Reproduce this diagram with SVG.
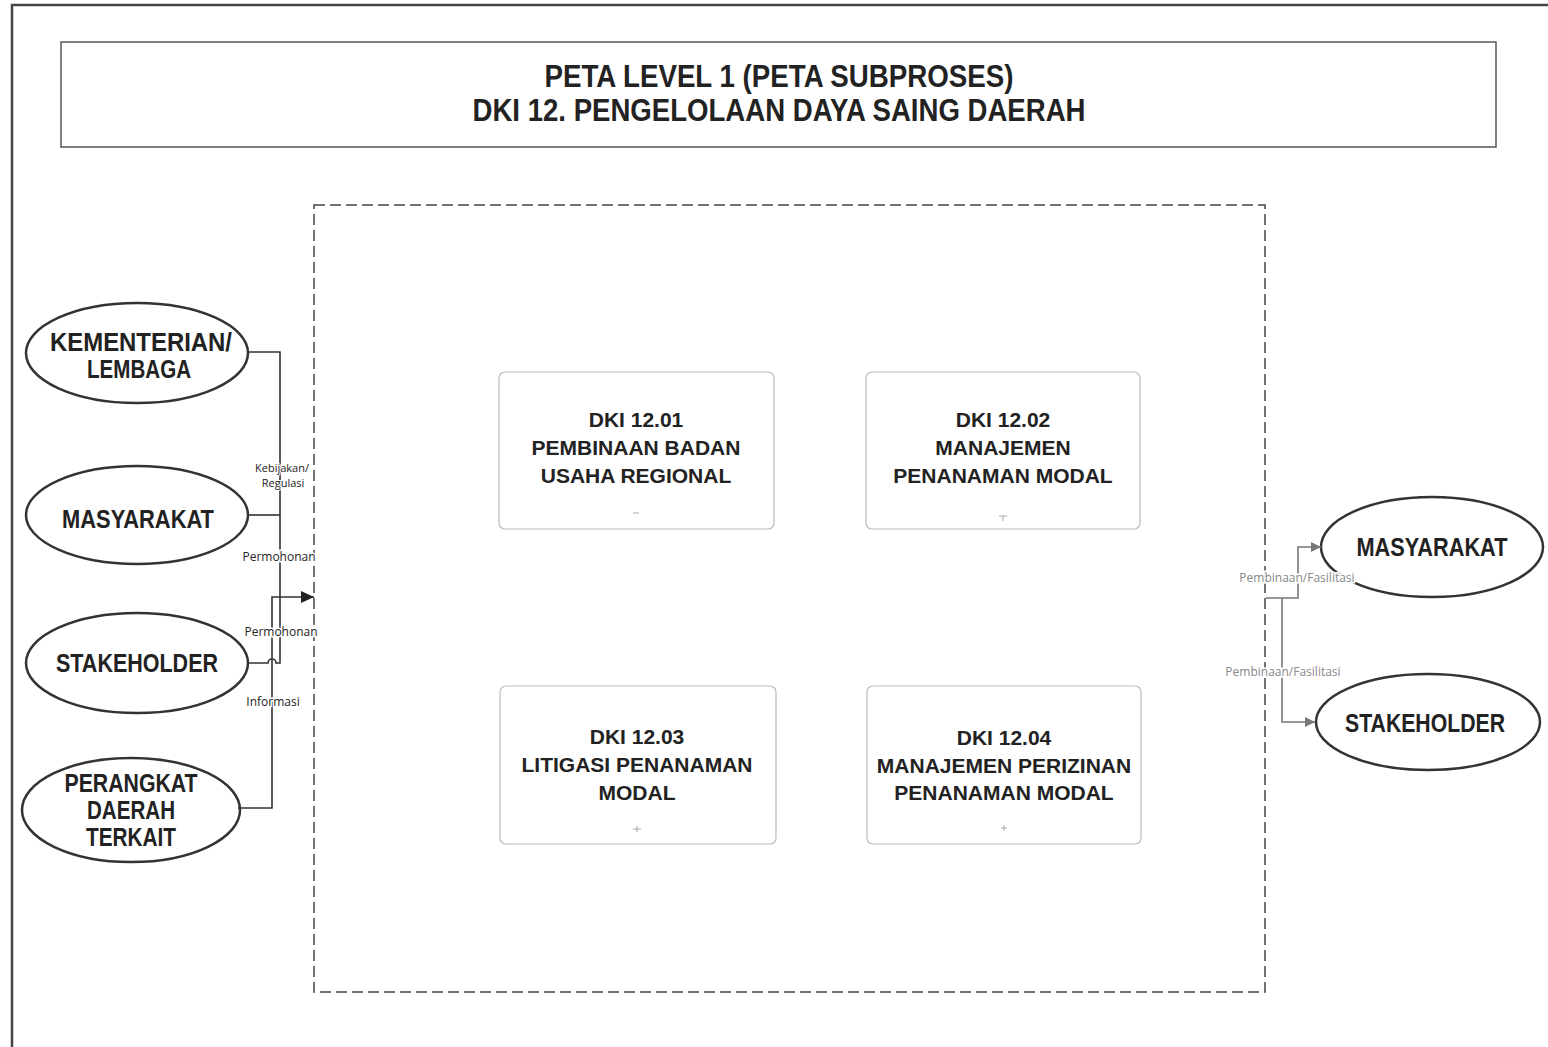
<svg xmlns="http://www.w3.org/2000/svg" width="1548" height="1047" viewBox="0 0 1548 1047">
<defs>
<style>
.frame{fill:none;stroke:#444;stroke-width:2.5}
.tbox{fill:#fff;stroke:#555;stroke-width:1.5}
.dash{fill:none;stroke:#444;stroke-width:1.5;stroke-dasharray:11 5}
.ell{fill:#fff;stroke:#333;stroke-width:2.5}
.box{fill:#fff;stroke:#bbb;stroke-width:1.2}
.mark{stroke:#aaa;stroke-width:1}
.title{font-family:"Liberation Sans",Arial,sans-serif;font-weight:bold;font-size:31px;fill:#222;text-anchor:middle}
.etx{font-family:"Liberation Sans",Arial,sans-serif;font-weight:bold;font-size:26px;fill:#222;text-anchor:middle}
.btx{font-family:"Liberation Sans",Arial,sans-serif;font-weight:bold;font-size:21px;fill:#222;text-anchor:middle}
.cl{fill:none;stroke:#333;stroke-width:1.6}
.cr{fill:none;stroke:#777;stroke-width:1.6}
.lbl{font-family:"Open Sans","Liberation Sans",sans-serif;font-size:12px;fill:#222;text-anchor:middle;stroke:#fff;stroke-width:3;paint-order:stroke}
.lbls{font-family:"Open Sans","Liberation Sans",sans-serif;font-size:11px;fill:#222;text-anchor:middle;stroke:#fff;stroke-width:2;paint-order:stroke}
.lblg{font-family:"Open Sans","Liberation Sans",sans-serif;font-size:12px;fill:#888;text-anchor:middle;stroke:#fff;stroke-width:3;paint-order:stroke}
</style>
<marker id="arD" markerUnits="userSpaceOnUse" markerWidth="14" markerHeight="12" refX="13" refY="6" orient="auto"><path d="M0,0 L13,6 L0,12 z" fill="#222"/></marker>
<marker id="arG" markerUnits="userSpaceOnUse" markerWidth="11" markerHeight="10" refX="10" refY="5" orient="auto"><path d="M0,0 L10,5 L0,10 z" fill="#777"/></marker>
</defs>
<rect width="1548" height="1047" fill="#fff"/>
<path class="frame" d="M12,1047 V5 H1548"/>
<g id="title">
<rect class="tbox" x="61" y="42" width="1435" height="105"/>
<text class="title" x="779" y="87" textLength="469" lengthAdjust="spacingAndGlyphs">PETA LEVEL 1 (PETA SUBPROSES)</text>
<text class="title" x="779" y="121" textLength="613" lengthAdjust="spacingAndGlyphs">DKI 12. PENGELOLAAN DAYA SAING DAERAH</text>
</g>
<g id="subprocess-area">
<rect class="dash" x="314" y="205" width="951" height="787"/>
</g>
<g id="in-kementerian">
<ellipse class="ell" cx="137" cy="353" rx="111" ry="50"/>
<text class="etx" x="141" y="351" textLength="182" lengthAdjust="spacingAndGlyphs">KEMENTERIAN/</text>
<text class="etx" x="139" y="378" textLength="104" lengthAdjust="spacingAndGlyphs">LEMBAGA</text>
</g>
<g id="in-masyarakat">
<ellipse class="ell" cx="137" cy="515" rx="111" ry="49"/>
<text class="etx" x="138" y="528" textLength="152" lengthAdjust="spacingAndGlyphs">MASYARAKAT</text>
</g>
<g id="in-stakeholder">
<ellipse class="ell" cx="137" cy="663" rx="111" ry="50"/>
<text class="etx" x="137" y="672" textLength="162" lengthAdjust="spacingAndGlyphs">STAKEHOLDER</text>
</g>
<g id="in-perangkat">
<ellipse class="ell" cx="131" cy="810" rx="109" ry="52"/>
<text class="etx" x="131" y="792" textLength="133" lengthAdjust="spacingAndGlyphs">PERANGKAT</text>
<text class="etx" x="131" y="819" textLength="88" lengthAdjust="spacingAndGlyphs">DAERAH</text>
<text class="etx" x="131" y="846" textLength="90" lengthAdjust="spacingAndGlyphs">TERKAIT</text>
</g>
<g id="dki-12-01">
<rect class="box" x="499" y="372" width="275" height="157" rx="6"/>
<text class="btx" x="636" y="427">DKI 12.01</text>
<text class="btx" x="636" y="455">PEMBINAAN BADAN</text>
<text class="btx" x="636" y="483">USAHA REGIONAL</text>
<path class="mark" d="M633,513 H639"/>
</g>
<g id="dki-12-02">
<rect class="box" x="866" y="372" width="274" height="157" rx="6"/>
<text class="btx" x="1003" y="427">DKI 12.02</text>
<text class="btx" x="1003" y="455">MANAJEMEN</text>
<text class="btx" x="1003" y="483">PENANAMAN MODAL</text>
<path class="mark" d="M999,516 H1007 M1003,516 V521"/>
</g>
<g id="dki-12-03">
<rect class="box" x="500" y="686" width="276" height="158" rx="6"/>
<text class="btx" x="637" y="744">DKI 12.03</text>
<text class="btx" x="637" y="772">LITIGASI PENANAMAN</text>
<text class="btx" x="637" y="800">MODAL</text>
<path class="mark" d="M633,829 H641 M637,826 V832"/>
</g>
<g id="dki-12-04">
<rect class="box" x="867" y="686" width="274" height="158" rx="6"/>
<text class="btx" x="1004" y="745">DKI 12.04</text>
<text class="btx" x="1004" y="773">MANAJEMEN PERIZINAN</text>
<text class="btx" x="1004" y="800">PENANAMAN MODAL</text>
<path class="mark" d="M1001,828 H1007 M1004,825 V831"/>
</g>
<g id="out-masyarakat">
<ellipse class="ell" cx="1432" cy="547" rx="111" ry="50"/>
<text class="etx" x="1432" y="556" textLength="151" lengthAdjust="spacingAndGlyphs">MASYARAKAT</text>
</g>
<g id="out-stakeholder">
<ellipse class="ell" cx="1428" cy="722" rx="112" ry="48"/>
<text class="etx" x="1425" y="732" textLength="160" lengthAdjust="spacingAndGlyphs">STAKEHOLDER</text>
</g>
<g id="connectors">
<path class="cl" d="M248,352 H280 V597"/>
<path class="cl" d="M248,515 H280"/>
<path class="cl" d="M248,663 H268 A4,4 0 0 1 276,663 H280 V597"/>
<path class="cl" d="M238,808 H272 V597 H314" marker-end="url(#arD)"/>
<path class="cr" d="M1266,598 H1298 V547 H1321" marker-end="url(#arG)"/>
<path class="cr" d="M1282,598 V722 H1315" marker-end="url(#arG)"/>
<text class="lbls" x="282" y="472">Kebijakan/</text>
<text class="lbls" x="283" y="487">Regulasi</text>
<text class="lbl" x="279" y="561">Permohonan</text>
<text class="lbl" x="281" y="636">Permohonan</text>
<text class="lbl" x="273" y="706">Informasi</text>
<text class="lblg" x="1297" y="582">Pembinaan/Fasilitasi</text>
<text class="lblg" x="1283" y="676">Pembinaan/Fasilitasi</text>
</g>
</svg>
